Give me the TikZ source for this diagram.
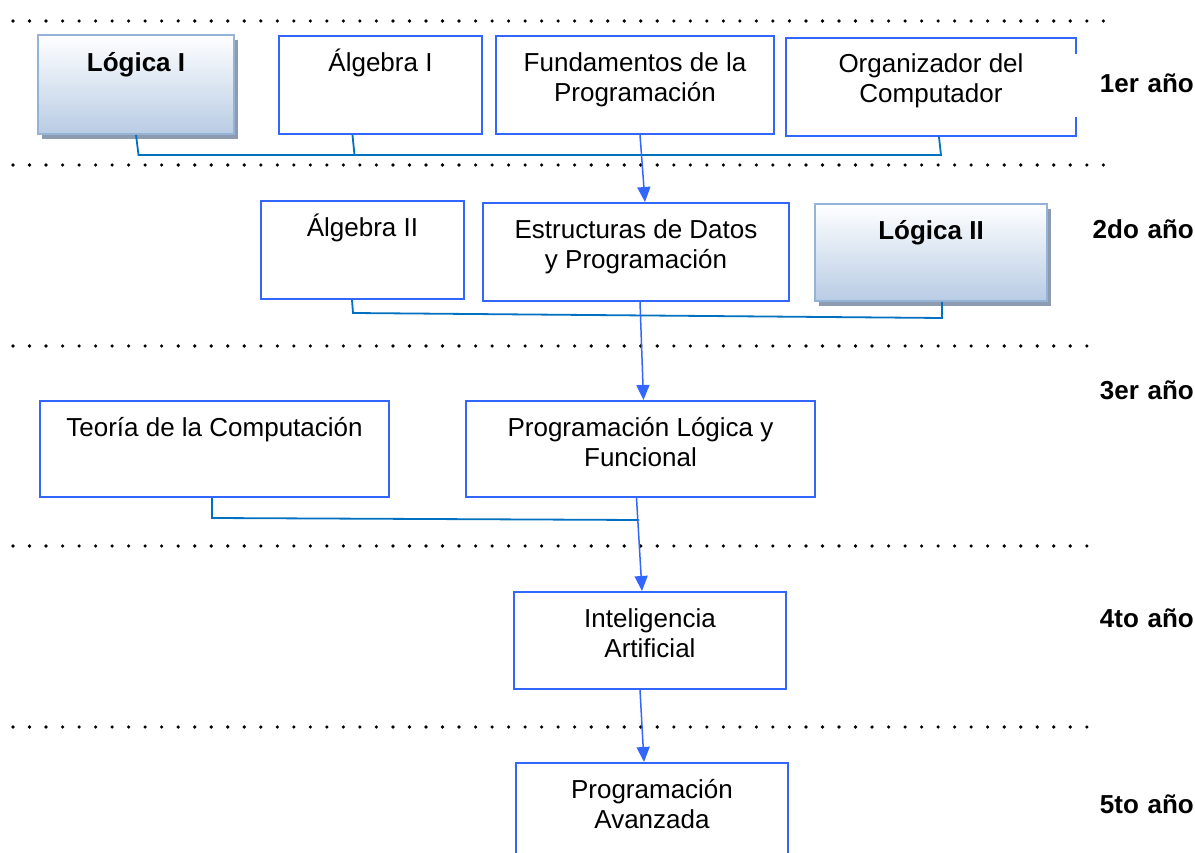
\documentclass[tikz,border=0pt]{standalone}
\usepackage{fontspec}
\setmainfont{Liberation Sans}
\usepackage{tikz}
\usetikzlibrary{arrows.meta,shadows}

\definecolor{boxblue}{RGB}{51,102,255}
\definecolor{linkblue}{RGB}{0,112,192}
\definecolor{keyedge}{RGB}{149,179,215}
\definecolor{keyfill}{RGB}{184,204,228}
\definecolor{keyshadow}{RGB}{140,155,176}

\newcommand{\coursefont}{\fontsize{26}{30}\selectfont}
\newcommand{\tstrut}{\rule{0pt}{25pt}}

\begin{document}
\begin{tikzpicture}[x=1pt,y=-1pt,
  course/.style={draw=boxblue,line width=2pt,inner sep=0pt,minimum height=98pt},
  keycourse/.style={course,draw=keyedge,line width=2pt,top color=white,bottom color=keyfill,
    drop shadow={shadow xshift=4pt,shadow yshift=-5pt,fill=keyshadow,opacity=1}},
  coursetext/.style={anchor=north,align=center,inner sep=0pt,font=\coursefont},
  year/.style={anchor=base east,text width=122pt,align=right,inner sep=0pt,font=\coursefont\bfseries},
  link/.style={draw=linkblue,line width=1.8pt},
  flow/.style={draw=boxblue,line width=1.5pt,-{Triangle[width=13pt,length=15pt]}},
  rowline/.style={line width=3.6pt,line cap=round,dash pattern=on 0pt off 16.52pt}]

\clip (0,0) rectangle (1195,853) ;

\draw[rowline] (13,21) -- (1104,21) ;
\draw[rowline] (13,165) -- (1104,165) ;
\draw[rowline] (13,346) -- (1088,346) ;
\draw[rowline] (13,546) -- (1088,546) ;
\draw[rowline] (13,727) -- (1088,727) ;

\node[keycourse,minimum width=196pt,minimum height=99pt] (lg1) at (136,84.5) {} ;
\node[course,minimum width=203pt] (alg1) at (380.5,85) {} ;
\node[course,minimum width=278pt] (fund) at (635,85) {} ;
\node[course,minimum width=290pt] (org) at (931,87) {} ;

\node[course,minimum width=203pt] (alg2) at (362.5,250) {} ;
\node[course,minimum width=306pt] (edp) at (636,252) {} ;
\node[keycourse,minimum width=232pt,minimum height=97pt] (lg2) at (931,252.5) {} ;

\node[course,minimum width=349pt,minimum height=96pt] (teo) at (214.5,449) {} ;
\node[course,minimum width=349pt,minimum height=96pt] (plf) at (640.5,449) {} ;

\node[course,minimum width=272pt,minimum height=97pt] (ia) at (650,640.5) {} ;
\node[course,minimum width=272pt] (pa) at (652,812) {} ;

\node[coursetext] (lg1-t) at ([yshift=-12pt]lg1.north) {\tstrut\textbf{Lógica I}} ;
\node[coursetext] (alg1-t) at ([yshift=-11pt]alg1.north) {\tstrut Álgebra I} ;
\node[coursetext] (fund-t) at ([yshift=-11pt]fund.north) {\tstrut Fundamentos de la\\Programación} ;
\node[coursetext] (org-t) at ([yshift=-10pt]org.north) {\tstrut Organizador del\\Computador} ;
\node[coursetext] (alg2-t) at ([yshift=-11pt]alg2.north) {\tstrut Álgebra II} ;
\node[coursetext] (edp-t) at ([yshift=-11pt]edp.north) {\tstrut Estructuras de Datos\\y Programación} ;
\node[coursetext] (lg2-t) at ([yshift=-11pt]lg2.north) {\tstrut\textbf{Lógica II}} ;
\node[coursetext] (teo-t) at ([yshift=-11pt]teo.north) {\tstrut Teoría de la Computación} ;
\node[coursetext] (plf-t) at ([yshift=-11pt]plf.north) {\tstrut Programación Lógica y\\Funcional} ;
\node[coursetext] (ia-t) at ([yshift=-11pt]ia.north) {\tstrut Inteligencia\\Artificial} ;
\node[coursetext] (pa-t) at ([yshift=-11pt]pa.north) {\tstrut Programación\\Avanzada} ;

\coordinate (j1l) at (138.5,155) ;
\coordinate (j1r) at (941,155) ;
\draw[link] (lg1.south) -- (j1l) -- (j1r) -- ([xshift=8pt]org.south) ;
\draw[link] ([xshift=-28pt]alg1.south) -- ([xshift=-26pt]alg1.south |- j1l) ;
\draw[flow] ([xshift=5pt]fund.south) -- ([xshift=9pt]edp.north) ;

\coordinate (j2l) at (353,313) ;
\coordinate (j2r) at (942,318) ;
\draw[link] ([xshift=-10.5pt]alg2.south) -- (j2l) -- (j2r) -- ([xshift=11pt]lg2.south) ;
\draw[flow] ([xshift=4pt]edp.south) -- ([xshift=3pt]plf.north) ;

\coordinate (j3l) at (212,518) ;
\coordinate (j3r) at (639,520) ;
\draw[link] ([xshift=-2.5pt]teo.south) -- (j3l) -- (j3r) ;
\draw[flow] ([xshift=-4pt]plf.south) -- ([xshift=-8pt]ia.north) ;

\draw[flow] ([xshift=-10pt]ia.south) -- ([xshift=-8pt]pa.north) ;

\node[year,fill=white,text height=39pt,text depth=24pt] (yr1) at (1194,93) {1er año} ;
\node[year] (yr2) at (1194,239) {2do año} ;
\node[year] (yr3) at (1194,399) {3er año} ;
\node[year] (yr4) at (1194,627) {4to año} ;
\node[year] (yr5) at (1194,813) {5to año} ;

\end{tikzpicture}
\end{document}
